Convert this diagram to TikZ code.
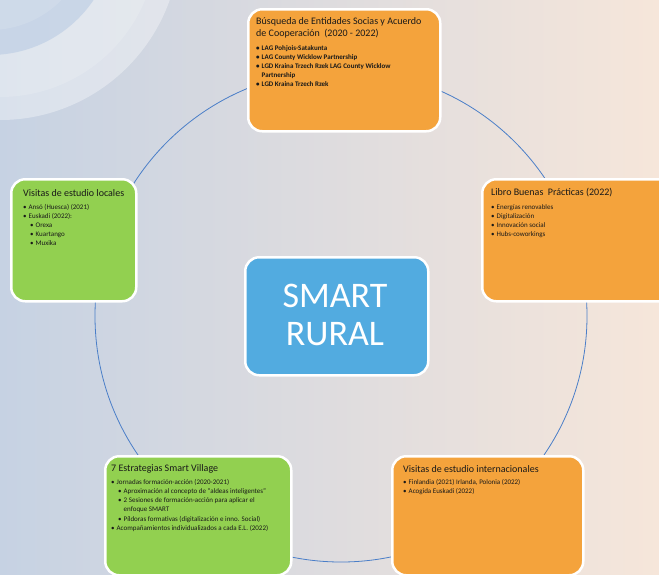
\documentclass[tikz,border=0pt]{standalone}
\usepackage{fontspec}
\setmainfont{Carlito}
\definecolor{boxorange}{HTML}{F4A33C}
\definecolor{boxgreen}{HTML}{92D050}
\definecolor{boxblue}{HTML}{52ABE0}
\definecolor{arcblue}{HTML}{4A7EC8}
\definecolor{bgleft}{HTML}{C6D2E3}
\definecolor{bgright}{HTML}{F6E6DA}
\definecolor{swirlblue}{HTML}{BFCFE5}
\newcommand\titlefont{\fontsize{10}{12.5}\selectfont}
\newcommand\itemfont{\fontsize{7}{9.2}\selectfont}
\newcommand\itm{\par\noindent\hangindent=5.5pt\hangafter=1\makebox[5.5pt][l]{\scriptsize\textbullet}}
\newcommand\sitm{\par\noindent\hangindent=12.5pt\hangafter=1\hspace*{7pt}\makebox[5.5pt][l]{\scriptsize\textbullet}}
\tikzset{
  box/.style={draw=white, line width=2.5pt, rounded corners=14pt, inner sep=0pt, anchor=north west},
  txt/.style={inner sep=0pt, anchor=base west, text=black!90},
  arcline/.style={draw=arcblue, line width=0.8pt},
}
\begin{document}
\begin{tikzpicture}[x=1pt,y=-1pt]
\useasboundingbox (0,0) rectangle (659,574);
% background
\shade[left color=bgleft, right color=bgright] (0,0) rectangle (659,574);
\begin{scope}
\clip (0,0) rectangle (659,574);
\fill[white, opacity=0.35] (0,-60) circle[radius=180pt];
\fill[white, opacity=0.15] (0,-60) circle[radius=157pt];
\fill[swirlblue, opacity=0.7] (-10,-70) circle[radius=125pt];
\fill[white, opacity=0.12] (-10,-70) circle[radius=100pt];
\end{scope}
% circle connector
\coordinate (hub) at (341,316);
\draw[arcline] (hub) circle[radius=246pt];
% boxes
\node[box, fill=boxorange, minimum width=192pt, minimum height=122pt] (top) at (247,8) {};
\node[box, fill=boxorange, minimum width=199pt, minimum height=122pt] (right) at (481,178) {};
\node[box, fill=boxgreen, minimum width=125pt, minimum height=122pt] (left) at (10,178) {};
\node[box, fill=boxblue, minimum width=183pt, minimum height=118pt] (center) at (244,256) {};
\node[box, fill=boxgreen, minimum width=186pt, minimum height=119pt] (botleft) at (104,455) {};
\node[box, fill=boxorange, minimum width=191pt, minimum height=119pt] (botright) at (391,455) {};
% center text
\node[inner sep=0pt, text=white, align=center, font=\fontsize{36}{38}\selectfont] (smart) at (335,315) {SMART\\RURAL};
% top text
\node[txt] (toptxt) at (256,24) {\begin{minipage}[t]{180pt}\titlefont
Búsqueda de Entidades Socias y Acuerdo\\de Cooperación~ (2020 - 2022)\par
\vspace{4.3pt}\itemfont\bfseries
\itm LAG Pohjois-Satakunta
\itm LAG County Wicklow Partnership
\itm LGD Kraina Trzech Rzek LAG County Wicklow\\Partnership
\itm LGD Kraina Trzech Rzek\par
\end{minipage}};
% right text
\node[txt] (righttxt) at (491,195) {\begin{minipage}[t]{160pt}\titlefont
Libro Buenas~ Prácticas (2022)\par
\vspace{4.8pt}\itemfont
\itm Energías renovables
\itm Digitalización
\itm Innovación social
\itm Hubs-coworkings\par
\end{minipage}};
% left text
\node[txt] (lefttxt) at (23,196) {\begin{minipage}[t]{110pt}\titlefont
Visitas de estudio locales\par
\vspace{3.8pt}\itemfont
\itm Ansó (Huesca) (2021)
\itm Euskadi (2022):
\sitm Orexa
\sitm Kuartango
\sitm Muxika\par
\end{minipage}};
% bottom left text
\node[txt] (botlefttxt) at (111,471) {\begin{minipage}[t]{180pt}\titlefont
7 Estrategias Smart Village\par
\vspace{4pt}\itemfont
\itm Jornadas formación-acción (2020-2021)
\sitm Aproximación al concepto de “aldeas inteligentes”
\sitm 2 Sesiones de formación-acción para aplicar el\\enfoque SMART
\sitm Píldoras formativas (digitalización e inno. Social)
\itm Acompañamientos individualizados a cada E.L. (2022)\par
\end{minipage}};
% bottom right text
\node[txt] (botrighttxt) at (403,472) {\begin{minipage}[t]{175pt}\titlefont
Visitas de estudio internacionales\par
\vspace{3pt}\itemfont
\itm Finlandia (2021) Irlanda, Polonia (2022)
\itm Acogida Euskadi (2022)\par
\end{minipage}};
\end{tikzpicture}
\end{document}
